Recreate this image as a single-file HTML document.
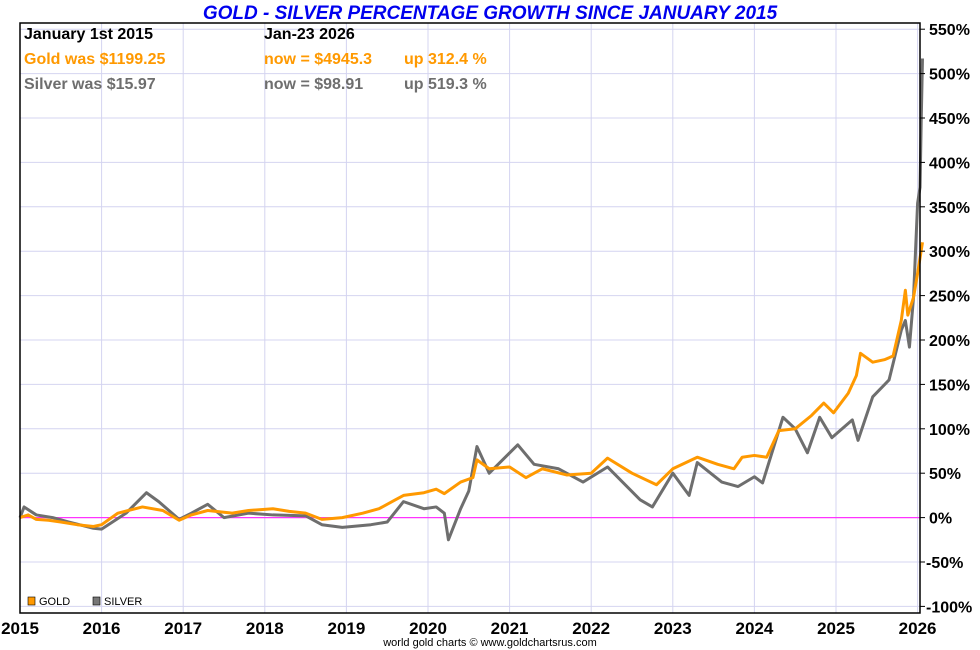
<!DOCTYPE html>
<html><head><meta charset="utf-8"><style>
body{margin:0;background:#fff;width:980px;height:650px;overflow:hidden;font-family:"Liberation Sans",sans-serif}
svg{display:block}
</style></head><body>
<svg id="chart" width="980" height="650">
<text x="490" y="19" text-anchor="middle" font-size="19" font-weight="bold" font-style="italic" fill="#0000ee">GOLD - SILVER PERCENTAGE GROWTH SINCE JANUARY 2015</text>
<g id="grid"></g>
<g id="series"></g>
<rect x="20" y="23" width="900" height="590" fill="none" stroke="#000" stroke-width="1.5"/>
<g id="axes"></g>
<g font-size="16" font-weight="bold">
<text x="24" y="39" fill="#000">January 1st 2015</text>
<text x="264" y="39" fill="#000">Jan-23  2026</text>
<text x="24" y="64" fill="#ff9900">Gold was $1199.25</text>
<text x="264" y="64" fill="#ff9900">now = $4945.3</text>
<text x="404" y="64" fill="#ff9900">up 312.4 %</text>
<text x="24" y="89" fill="#6e6e6e">Silver was $15.97</text>
<text x="264" y="89" fill="#6e6e6e">now = $98.91</text>
<text x="404" y="89" fill="#6e6e6e">up 519.3 %</text>
</g>
<g font-size="11">
<rect x="28" y="597" width="7" height="8" fill="#ff9900" stroke="#000" stroke-width="0.6"/>
<text x="39" y="605">GOLD</text>
<rect x="93" y="597" width="7" height="8" fill="#777" stroke="#000" stroke-width="0.6"/>
<text x="104" y="605">SILVER</text>
</g>
<text x="490" y="646" text-anchor="middle" font-size="11" fill="#000">world gold charts © www.goldchartsrus.com</text>
</svg>
<script>
const yTicks=[-100,-50,0,50,100,150,200,250,300,350,400,450,500,550];
const xYears=[2015,2016,2017,2018,2019,2020,2021,2022,2023,2024,2025,2026];
const goldT=[2015.0,2015.1,2015.2,2015.35,2015.5,2015.7,2015.9,2016.0,2016.2,2016.5,2016.75,2016.95,2017.1,2017.3,2017.6,2017.8,2018.1,2018.3,2018.5,2018.7,2018.95,2019.2,2019.4,2019.6,2019.7,2019.95,2020.1,2020.2,2020.4,2020.55,2020.6,2020.75,2021.0,2021.2,2021.4,2021.7,2022.0,2022.2,2022.5,2022.8,2023.0,2023.3,2023.55,2023.75,2023.85,2024.0,2024.15,2024.3,2024.5,2024.7,2024.85,2024.97,2025.15,2025.25,2025.3,2025.45,2025.6,2025.7,2025.8,2025.85,2025.88,2025.95,2026.0,2026.06];
const goldV=[0,3,-2,-3,-5,-8,-10,-8,5,12,8,-3,3,8,5,8,10,7,5,-2,0,5,10,20,25,28,32,27,40,45,65,55,57,45,55,48,50,67,50,37,55,68,60,55,68,70,68,98,100,115,129,118,140,160,185,175,178,182,222,256,228,248,275,310];
const silverT=[2015.0,2015.05,2015.2,2015.4,2015.6,2015.9,2016.0,2016.3,2016.55,2016.7,2016.95,2017.1,2017.3,2017.5,2017.8,2018.1,2018.5,2018.7,2018.95,2019.3,2019.5,2019.7,2019.95,2020.1,2020.2,2020.25,2020.4,2020.5,2020.6,2020.75,2021.1,2021.3,2021.6,2021.9,2022.2,2022.6,2022.75,2023.0,2023.2,2023.3,2023.6,2023.8,2024.0,2024.1,2024.35,2024.5,2024.65,2024.8,2024.95,2025.2,2025.27,2025.45,2025.65,2025.8,2025.85,2025.9,2025.95,2026.0,2026.03,2026.045,2026.06];
const silverV=[0,12,3,0,-5,-12,-13,5,28,18,-2,5,15,0,5,3,2,-8,-11,-8,-5,18,10,12,5,-25,10,30,80,50,82,60,55,40,57,20,12,50,25,62,40,35,46,39,113,100,73,113,90,110,87,136,155,211,222,192,248,354,372,450,517];
const X=y=>20+(y-2015)*81.6;
const Y=v=>517.6-v*44.4/50;
const NS="http://www.w3.org/2000/svg";
const grid=document.getElementById('grid'),axes=document.getElementById('axes'),ser=document.getElementById('series');
yTicks.forEach(t=>{
 const l=document.createElementNS(NS,'line');
 
 
 l.setAttribute('x1',20);l.setAttribute('x2',920);l.setAttribute('y1',Y(t));l.setAttribute('y2',Y(t));
 l.setAttribute('stroke',t===0?'#ff33ff':'#d4d4f0');l.setAttribute('stroke-width',t===0?1.2:1);
 (t===0?ser:grid).appendChild(l);
 const k=document.createElementNS(NS,'line');
 
 
 k.setAttribute('x1',920);k.setAttribute('x2',925);k.setAttribute('y1',Y(t));k.setAttribute('y2',Y(t));k.setAttribute('stroke','#000');
 axes.appendChild(k);
 const tx=document.createElementNS(NS,'text');
 
 
 tx.setAttribute('x',t<0?926:929);tx.setAttribute('y',Y(t)+6);tx.setAttribute('font-size','16');tx.setAttribute('font-weight','bold');
 tx.textContent=t+'%';axes.appendChild(tx);
});
xYears.forEach(yr=>{
 const l=document.createElementNS(NS,'line');
 
 
 l.setAttribute('x1',X(yr));l.setAttribute('x2',X(yr));l.setAttribute('y1',23);l.setAttribute('y2',613);
 l.setAttribute('stroke','#d4d4f0');grid.appendChild(l);
 const tx=document.createElementNS(NS,'text');
 
 
 tx.setAttribute('x',X(yr));tx.setAttribute('y',634);tx.setAttribute('text-anchor','middle');tx.setAttribute('font-size','17');tx.setAttribute('font-weight','bold');
 tx.textContent=yr;axes.appendChild(tx);
});
function line(T,V,col,name){
 const p=document.createElementNS(NS,'polyline');
 
 
 p.setAttribute('points',T.map((t,i)=>X(t)+','+Y(V[i])).join(' '));
 p.setAttribute('fill','none');p.setAttribute('stroke',col);p.setAttribute('stroke-width','3');p.setAttribute('stroke-linejoin','round');
 ser.appendChild(p);
}
line(silverT,silverV,'#6e6e6e','silver-line');
line(goldT,goldV,'#ff9900','gold-line');
</script>
</body></html>
